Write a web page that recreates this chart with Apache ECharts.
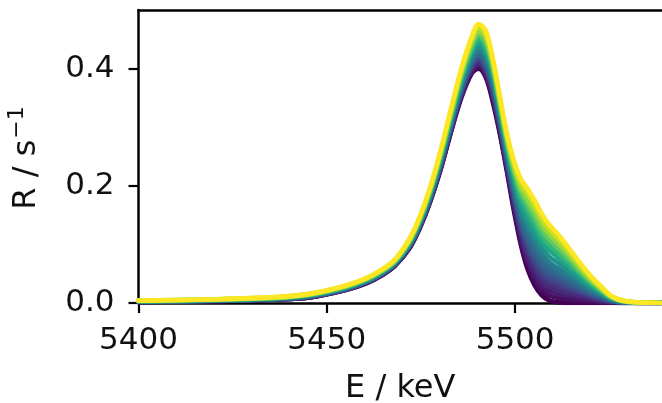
<!DOCTYPE html>
<html>
<head>
<meta charset="utf-8">
<script src="https://cdn.jsdelivr.net/npm/echarts@6/dist/echarts.min.js"></script>
<style>
  html, body { margin: 0; padding: 0; background: #ffffff; }
  #chart { width: 662px; height: 403px; }
</style>
</head>
<body>
<div id="chart"></div>
<script>
// Energy grid (keV) shared by every spectrum
const energy = [5400, 5417.9, 5436.5, 5445.8, 5455.0, 5460.6, 5464.3, 5468.0, 5471.8, 5474.5,
  5477.3, 5480.1, 5482.9, 5485.7, 5488.5, 5490.3, 5492.2, 5494.0, 5495.9, 5497.8,
  5499.6, 5501.5, 5503.3, 5505.2, 5507.1, 5508.9, 5511.7, 5514.5, 5517.3, 5520.1,
  5522.9, 5525.6, 5529.4, 5538.6];

// Count rate R (1/s), one spectrum per measurement, earliest first
const rate00 = [.002,.003,.006,.010,.022,.034,.046,.063,.092,.125,.170,.225,.290,.350,.392,.400,.385,.345,.290,.225,.160,.100,.058,.030,.013,.005,.001,0,0,0,0,0,0,0];
const rate01 = [.002,.003,.006,.010,.022,.034,.046,.063,.092,.126,.171,.226,.291,.352,.394,.403,.388,.350,.294,.229,.165,.106,.066,.038,.021,.013,.008,.005,.004,.003,.001,.001,0,0];
const rate02 = [.002,.003,.006,.010,.023,.035,.047,.064,.093,.127,.172,.228,.293,.354,.397,.406,.392,.354,.298,.233,.170,.113,.074,.047,.030,.021,.015,.011,.008,.006,.003,.001,0,0];
const rate03 = [.002,.003,.006,.010,.023,.035,.047,.064,.094,.127,.173,.229,.295,.356,.400,.409,.395,.358,.301,.236,.175,.119,.082,.055,.037,.028,.021,.016,.012,.008,.004,.002,.001,0];
const rate04 = [.002,.004,.007,.011,.023,.036,.048,.065,.095,.128,.174,.231,.297,.358,.403,.413,.398,.362,.305,.240,.180,.126,.090,.063,.045,.035,.027,.021,.016,.011,.006,.003,.001,0];
const rate05 = [.002,.004,.007,.011,.024,.036,.048,.066,.096,.129,.175,.232,.298,.360,.405,.416,.401,.366,.308,.243,.184,.131,.096,.070,.052,.041,.033,.025,.019,.013,.007,.003,.001,0];
const rate06 = [.003,.004,.007,.012,.024,.036,.049,.066,.096,.130,.176,.233,.300,.363,.408,.419,.405,.370,.311,.246,.188,.137,.103,.078,.059,.048,.039,.030,.022,.015,.009,.004,.001,0];
const rate07 = [.003,.004,.007,.012,.024,.036,.049,.066,.096,.131,.177,.234,.301,.365,.410,.422,.408,.373,.314,.249,.192,.142,.109,.084,.065,.054,.044,.034,.025,.017,.010,.004,.001,0];
const rate08 = [.003,.004,.007,.012,.025,.037,.049,.067,.097,.132,.178,.236,.303,.367,.413,.425,.412,.377,.317,.252,.196,.147,.116,.091,.071,.060,.049,.039,.029,.019,.012,.005,.001,0];
const rate09 = [.003,.004,.007,.012,.025,.037,.049,.067,.098,.132,.179,.237,.305,.369,.415,.428,.415,.380,.320,.255,.199,.151,.121,.097,.077,.065,.053,.042,.031,.021,.013,.005,.001,0];
const rate10 = [.003,.004,.008,.013,.025,.038,.050,.068,.099,.133,.180,.239,.307,.371,.418,.432,.418,.383,.323,.258,.203,.156,.127,.103,.083,.070,.058,.046,.034,.023,.014,.006,.002,0];
const rate11 = [.003,.005,.008,.013,.026,.039,.051,.069,.100,.135,.183,.242,.310,.375,.424,.438,.425,.389,.328,.263,.209,.165,.137,.114,.094,.080,.067,.053,.039,.027,.016,.007,.002,0];
const rate12 = [.003,.005,.008,.014,.027,.039,.052,.069,.101,.137,.185,.244,.313,.379,.429,.444,.432,.395,.333,.268,.216,.174,.148,.126,.105,.091,.076,.061,.045,.030,.018,.008,.002,0];
const rate13 = [.003,.005,.009,.014,.027,.040,.053,.070,.103,.138,.187,.247,.317,.383,.434,.451,.438,.400,.337,.272,.222,.182,.158,.136,.114,.100,.084,.067,.050,.034,.020,.009,.002,0];
const rate14 = [.004,.005,.009,.015,.028,.041,.054,.071,.104,.140,.189,.250,.320,.388,.439,.457,.445,.405,.342,.277,.228,.190,.168,.146,.124,.109,.092,.074,.054,.037,.022,.010,.002,0];
const rate15 = [.004,.006,.009,.015,.029,.042,.054,.072,.105,.142,.191,.253,.323,.392,.445,.463,.452,.410,.347,.282,.234,.197,.177,.156,.134,.118,.100,.080,.059,.040,.024,.010,.003,0];
const rate16 = [.004,.006,.010,.016,.029,.042,.055,.073,.107,.143,.193,.255,.327,.396,.450,.470,.458,.416,.351,.286,.240,.205,.187,.166,.144,.127,.108,.086,.064,.043,.026,.011,.003,0];
const rate17 = [.004,.006,.010,.016,.030,.043,.056,.074,.108,.145,.195,.258,.330,.400,.455,.476,.465,.420,.355,.290,.245,.212,.195,.175,.152,.135,.115,.092,.068,.046,.028,.012,.003,0];

const spectra = [rate00, rate01, rate02, rate03, rate04, rate05, rate06, rate07, rate08,
                 rate09, rate10, rate11, rate12, rate13, rate14, rate15, rate16, rate17];

// Axis ticks
const xTicks = [5400, 5450, 5500];
const yTicks = [0, 0.2, 0.4];

// viridis colour ramp, one colour per spectrum (dark purple -> yellow)
const palette = ['#440154', '#470e61', '#481b6d', '#472a7a', '#463480', '#404688', '#3b528b',
                 '#355f8d', '#31668e', '#2d708e', '#287c8e', '#21918c', '#20a486', '#35b779',
                 '#5ec962', '#90d743', '#c8e020', '#fde725'];

const FONT = 'DejaVu Sans';
const INK = '#111111';

const series = spectra.map((rates, i) => ({
  type: 'line',
  xAxisIndex: 0,
  yAxisIndex: 0,
  showSymbol: false,
  smooth: 0.35,
  silent: true,
  animation: false,
  lineStyle: { color: palette[i], width: 4.6, cap: 'round', join: 'round' },
  data: energy.map((e, j) => [e, rates[j]])
}));

const chart = echarts.init(document.getElementById('chart'), null, { renderer: 'canvas' });
chart.setOption({
  animation: false,
  backgroundColor: '#ffffff',
  grid: { left: 138.5, right: 0, top: 10, bottom: 100, containLabel: false, outerBoundsMode: 'none' },
  xAxis: [
    {
      type: 'value', position: 'bottom', min: 5400, max: 5539,
      name: 'E / keV', nameLocation: 'middle', nameGap: 70,
      nameTextStyle: { fontFamily: FONT, fontSize: 32, color: INK },
      axisLine: { show: true, lineStyle: { color: '#000', width: 2.5 } },
      axisTick: { show: true, length: 10, lineStyle: { color: '#000', width: 2.2 }, customValues: xTicks },
      axisLabel: { fontFamily: FONT, fontSize: 31, color: INK, margin: 22, customValues: xTicks,
                   formatter: v => String(v) },
      splitLine: { show: false }
    },
    {
      type: 'value', position: 'top', min: 5400, max: 5539,
      axisLine: { show: true, onZero: false, lineStyle: { color: '#000', width: 2.5 } },
      axisTick: { show: false }, axisLabel: { show: false }, splitLine: { show: false }
    }
  ],
  yAxis: {
    type: 'value', min: 0, max: 0.5,
    axisLine: { show: true, lineStyle: { color: '#000', width: 2.5 } },
    axisTick: { show: true, length: 10, lineStyle: { color: '#000', width: 2.2 }, customValues: yTicks },
    axisLabel: { fontFamily: FONT, fontSize: 31, color: INK, margin: 24, customValues: yTicks,
                 formatter: v => v.toFixed(1) },
    splitLine: { show: false }
  },
  graphic: [
    {
      type: 'text', x: 43, y: 158, rotation: Math.PI / 2,
      style: {
        text: '{a|R / s}{b|−1}',
        align: 'center', verticalAlign: 'bottom',
        rich: {
          a: { fontFamily: FONT, fontSize: 32, fill: INK, verticalAlign: 'bottom' },
          b: { fontFamily: FONT, fontSize: 22, fill: INK, verticalAlign: 'bottom', padding: [0, 0, 15, 1] }
        }
      }
    }
  ],
  series: series
});
</script>
</body>
</html>
